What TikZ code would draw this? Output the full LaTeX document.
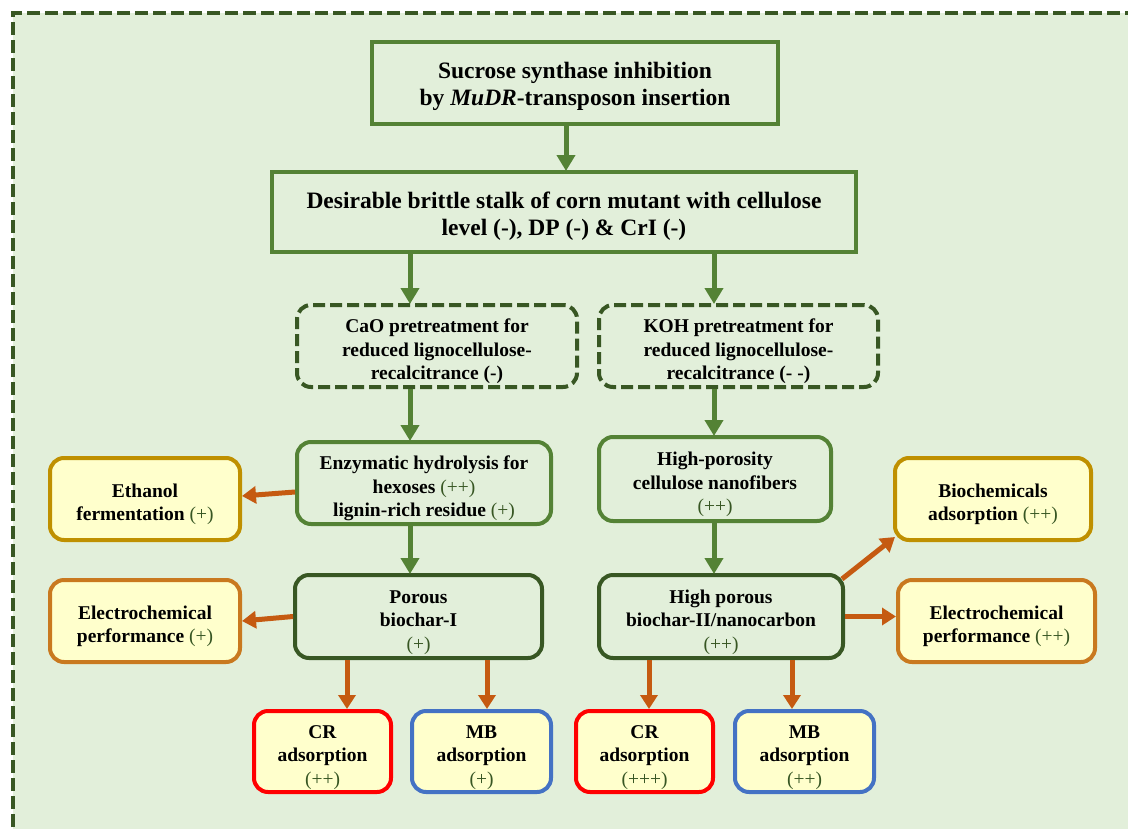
\documentclass[tikz,border=0pt]{standalone}
\usepackage{fontspec}
\setmainfont{Liberation Serif}
\usetikzlibrary{arrows.meta,positioning}
\definecolor{bgc}{HTML}{E2EFDA}
\definecolor{dgreen}{HTML}{385723}
\definecolor{mgreen}{HTML}{548235}
\definecolor{pgreen}{HTML}{375623}
\definecolor{ylw}{HTML}{FFFFCC}
\definecolor{gold}{HTML}{BF9000}
\definecolor{brown}{HTML}{C9791F}
\definecolor{orng}{HTML}{C55A11}
\definecolor{bblue}{HTML}{4472C4}
\newcommand{\plusmark}[1]{{\mdseries\color{pgreen}#1}}
\newcommand{\topbig}{\rule{0pt}{24pt}}
\newcommand{\topsm}{\rule{0pt}{24.5pt}}
\tikzset{
  bigtxt/.style={font=\fontsize{23.5}{27}\selectfont\bfseries, align=center},
  smtxt/.style={font=\fontsize{19.5}{23.5}\selectfont\bfseries, align=center},
  sqbox/.style={draw=mgreen, line width=4pt, fill=bgc, inner sep=0pt, bigtxt},
  dbox/.style={draw=dgreen, line width=4pt, dash pattern=on 12pt off 5pt, rounded corners=14pt, fill=bgc, inner sep=0pt, smtxt},
  gbox/.style={draw=mgreen, line width=4pt, rounded corners=14pt, fill=bgc, inner sep=0pt, smtxt},
  dgbox/.style={draw=dgreen, line width=4pt, rounded corners=14pt, fill=bgc, inner sep=0pt, smtxt},
  ybox/.style={line width=4pt, rounded corners=14pt, fill=ylw, inner sep=0pt, smtxt},
  garrow/.style={draw=mgreen, line width=5pt, -{Triangle[width=18pt,length=16pt]}, shorten >=-1pt},
  oarrow/.style={draw=orng, line width=5pt, -{Triangle[width=17pt,length=14pt]}},
}
\begin{document}
\begin{tikzpicture}[x=1pt,y=-1pt]
\useasboundingbox (0,0) rectangle (1128,828);
\begin{scope}
\clip (0,0) rectangle (1128,828);
\fill[bgc] (13,13) rectangle (1145,845);
\draw[dgreen, line width=4pt, dash pattern=on 13pt off 5pt] (13,845) -- (13,13) -- (1145,13);
\end{scope}

% main boxes
\node[sqbox, minimum width=406, minimum height=82] (b1) at (575,83)
  {\topbig Sucrose synthase inhibition\\ by \textit{MuDR}-transposon insertion};
\node[sqbox, minimum width=584, minimum height=80] (b2) at (564,212)
  {\topbig Desirable brittle stalk of corn mutant with cellulose\\ level (-), DP (-) \& CrI (-)};
\node[dbox, minimum width=280, minimum height=82] (b3) at (437,346)
  {\topsm CaO pretreatment for\\ reduced lignocellulose-\\ recalcitrance (-)};
\node[dbox, minimum width=279, minimum height=82] (b4) at (738.5,346)
  {\topsm KOH pretreatment for\\ reduced lignocellulose-\\ recalcitrance (- -)};
\node[gbox, minimum width=254, minimum height=82] (b5) at (424,483)
  {\topsm Enzymatic hydrolysis for\\ hexoses \plusmark{(++)}\\ lignin-rich residue \plusmark{(+)}};
\node[gbox, minimum width=232, minimum height=84] (b6) at (715,479)
  {\topsm High-porosity\\ cellulose nanofibers\\ \plusmark{(++)}};
\node[ybox, draw=gold, minimum width=190, minimum height=82] (b7) at (145,499)
  {\topsm Ethanol\\ fermentation \plusmark{(+)}};
\node[dgbox, minimum width=247, minimum height=83] (b8) at (418.5,616.5)
  {\topsm Porous\\ biochar-I\\ \plusmark{(+)}};
\node[dgbox, minimum width=244, minimum height=83] (b9) at (721,616.5)
  {\topsm High porous\\ biochar-II/nanocarbon\\ \plusmark{(++)}};
\node[ybox, draw=brown, minimum width=190, minimum height=82] (b10) at (145,621)
  {\topsm Electrochemical\\ performance \plusmark{(+)}};
\node[ybox, draw=gold, minimum width=196, minimum height=82] (b11) at (993,499)
  {\topsm Biochemicals\\ adsorption \plusmark{(++)}};
\node[ybox, draw=brown, minimum width=197, minimum height=82] (b12) at (996.5,621)
  {\topsm Electrochemical\\ performance \plusmark{(++)}};
\node[ybox, draw=red, minimum width=137, minimum height=81] (c1) at (322.5,751.5)
  {\topsm CR\\ adsorption\\ \plusmark{(++)}};
\node[ybox, draw=bblue, minimum width=139, minimum height=81] (m1) at (481.5,751.5)
  {\topsm MB\\ adsorption\\ \plusmark{(+)}};
\node[ybox, draw=red, minimum width=137, minimum height=81] (c2) at (644.5,751.5)
  {\topsm CR\\ adsorption\\ \plusmark{(+++)}};
\node[ybox, draw=bblue, minimum width=139, minimum height=81] (m2) at (804.5,751.5)
  {\topsm MB\\ adsorption\\ \plusmark{(++)}};

% helper x positions
\coordinate (x566) at (566,0);
\coordinate (x410) at (410,0);
\coordinate (x714) at (714,0);
\coordinate (x347) at (347,0);
\coordinate (x487) at (487,0);
\coordinate (x649) at (649,0);
\coordinate (x792) at (792,0);
\coordinate (ethend) at (240,496);
\coordinate (ethstart) at (297,492);

% green arrows
\draw[garrow] (b1.south -| x566) -- (b2.north -| x566);
\draw[garrow] (b2.south -| x410) -- (b3.north -| x410);
\draw[garrow] (b2.south -| x714) -- (b4.north -| x714);
\draw[garrow] (b3.south -| x410) -- (b5.north -| x410);
\draw[garrow] (b4.south -| x714) -- (b6.north -| x714);
\draw[garrow] (b5.south -| x410) -- (b8.north -| x410);
\draw[garrow] (b6.south -| x714) -- (b9.north -| x714);

% orange arrows
\draw[oarrow] (b5.west |- ethstart) -- (b7.east |- ethend);
\draw[oarrow] (b8.west) -- (b10.east);
\draw[oarrow] ([xshift=-3pt,yshift=-6pt]b9.north east) -- ([xshift=2pt,yshift=5pt]b11.south west);
\draw[oarrow] (b9.east) -- (b12.west |- b9.east);
\draw[oarrow] (b8.south -| x347) -- (c1.north -| x347);
\draw[oarrow] (b8.south -| x487) -- (m1.north -| x487);
\draw[oarrow] (b9.south -| x649) -- (c2.north -| x649);
\draw[oarrow] (b9.south -| x792) -- (m2.north -| x792);
\end{tikzpicture}
\end{document}
